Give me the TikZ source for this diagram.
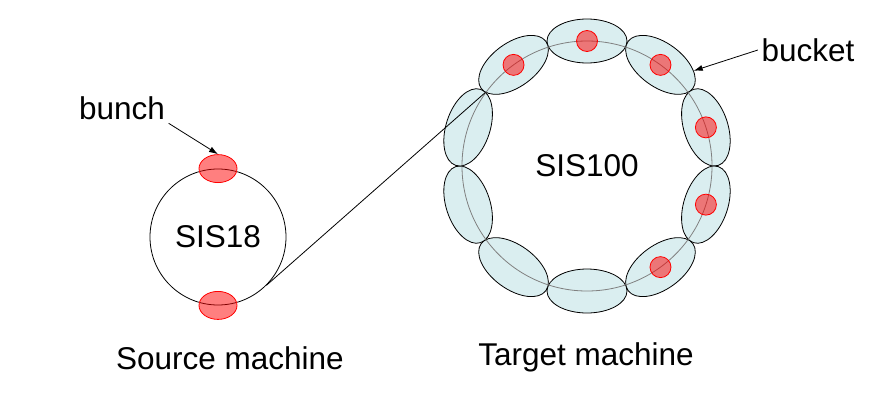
\documentclass[tikz,border=0pt]{standalone}
\usepackage{fontspec}
\setmainfont{Liberation Sans}
\usetikzlibrary{positioning,shapes.geometric,arrows.meta}

\definecolor{bucketblue}{HTML}{DAEEF0}

\tikzset{
  ring/.style={draw,circle,inner sep=0pt},
  lbl/.style={font=\fontsize{31.5}{36}\selectfont},
  bunchdot/.style={draw=red,fill=red,fill opacity=0.5,ellipse,minimum width=38pt,minimum height=28pt,inner sep=0pt},
  bucketbox/.style={draw,ellipse,fill=bucketblue,minimum width=80pt,minimum height=44pt,inner sep=0pt},
  beamdot/.style={draw=red,fill=red,fill opacity=0.5,circle,minimum size=21pt,inner sep=0pt}
}

\begin{document}
\begin{tikzpicture}[x=1pt,y=1pt,>={Latex[length=9pt,width=6pt]},line width=0.8pt]
    \useasboundingbox (0,0) rectangle (886,-407);
    % Source machine
    \node[ring,lbl,minimum size=136pt] (sis18) at (218,-237) {SIS18};
    \node[bunchdot] (bunchtop) at (sis18.north) {};
    \node[bunchdot] (bunchbot) at (sis18.south) {};
    \node[lbl] (bunchlbl) at (122,-108) {bunch};
    \draw[->] (bunchlbl.south east) -- (bunchtop.north);
    \node[lbl] (srclbl) at (230,-358) {Source machine};

    % Target machine
    \coordinate (c100) at (587,-166);
    \foreach \a [count=\i] in {90,54,...,-234}
        \node[bucketbox,rotate=\a-90] (bucket\i) at ([shift={(\a:125)}]c100) {};
    \node[ring,draw=gray,lbl,minimum size=250pt] (sis100) at (c100) {SIS100};
    \foreach \i in {1,2,3,4,5,10}
        \node[beamdot] (dot\i) at (bucket\i) {};
    \node[lbl] (bucketlbl) at (808,-50) {bucket};
    \draw[->] (bucketlbl.west) -- (bucket2.26);
    \node[lbl] (tgtlbl) at (586,-357) {Target machine};

    % Transfer
    \draw (sis18.-45) -- (sis100.144);
\end{tikzpicture}
\end{document}
